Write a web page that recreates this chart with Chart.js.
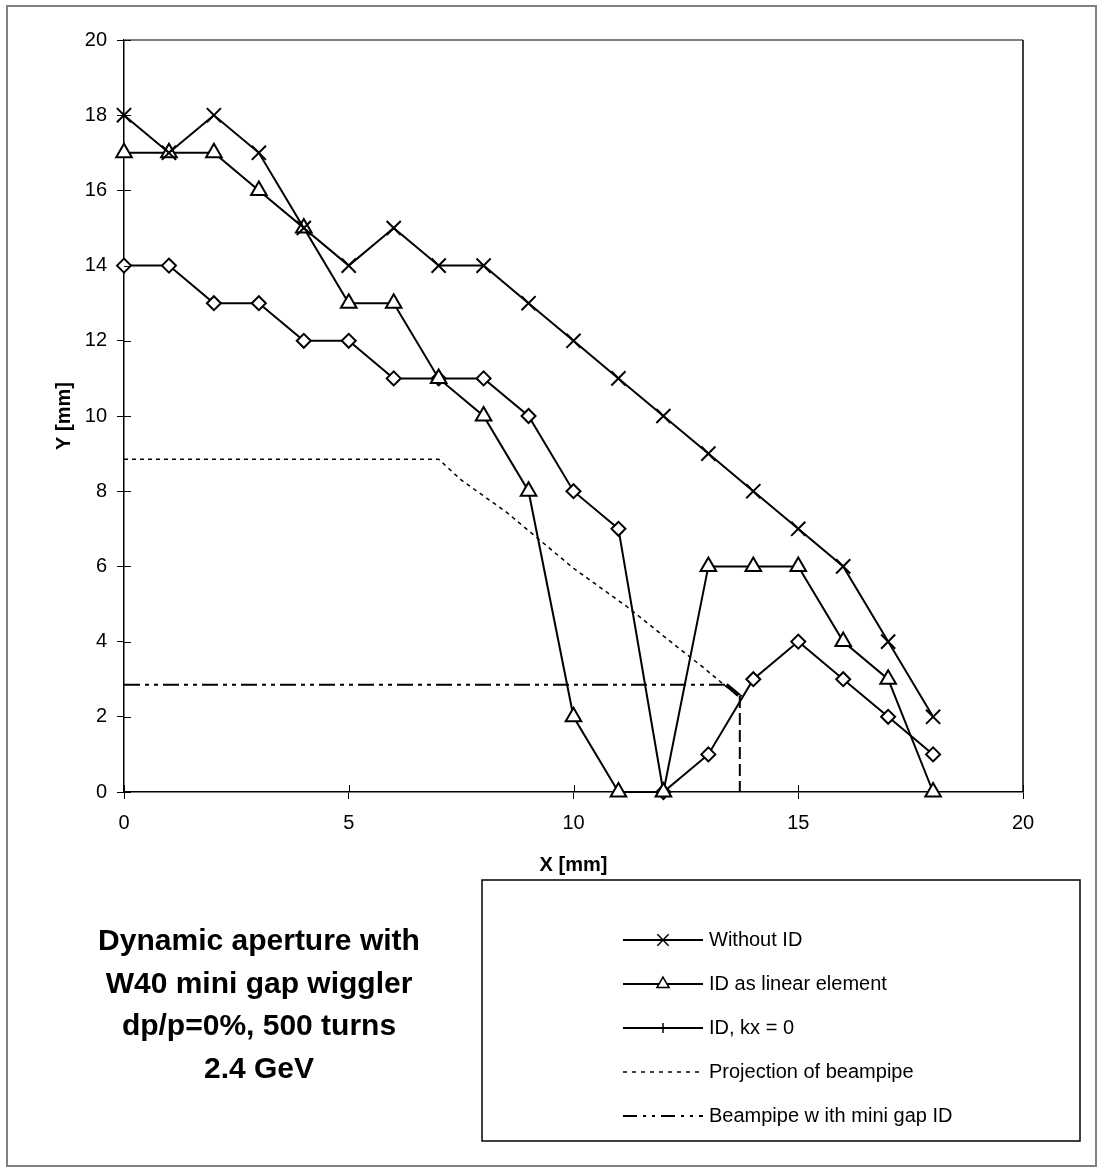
<!DOCTYPE html>
<html>
<head>
<meta charset="utf-8">
<script src="https://cdn.jsdelivr.net/npm/chart.js@4.4.1/dist/chart.umd.min.js"></script>
<style>
    html, body { margin: 0; padding: 0; background: #ffffff; }
    #wrap { width: 1098px; height: 1171px; }
</style>
</head>
<body>
<div id="wrap"><canvas id="apertureChart"></canvas></div>
<script>
// Data (mm)
const xMm = [0, 1, 2, 3, 4, 5, 6, 7, 8, 9, 10, 11, 12, 13, 14, 15, 16, 17, 18];
const withoutId = [18, 17, 18, 17, 15, 14, 15, 14, 14, 13, 12, 11, 10, 9, 8, 7, 6, 4, 2];
const idLinear = [17, 17, 17, 16, 15, 13, 13, 11, 10, 8, 2, 0, 0, 6, 6, 6, 4, 3, 0];
const idKx0 = [14, 14, 13, 13, 12, 12, 11, 11, 11, 10, 8, 7, 0, 1, 3, 4, 3, 2, 1];

// Projection of beampipe
const projX = [0, 7, 7.5, 8.5, 10, 11.2, 12, 12.9, 13.4, 13.75];
const projY = [8.85, 8.85, 8.3, 7.45, 5.95, 4.92, 4.15, 3.3, 2.8, 2.55];

// Beampipe with mini gap ID
const pipeX = [0, 13.4, 13.7, 13.7];
const pipeY = [2.85, 2.85, 2.55, 0];

const seriesNames = ['Without ID', 'ID as linear element', 'ID, kx = 0', 'Projection of beampipe', 'Beampipe w ith mini gap ID'];
const titleLines = ['Dynamic aperture with', 'W40 mini gap wiggler', 'dp/p=0%, 500 turns', '2.4 GeV'];

const FONT = "'Liberation Sans', Arial, sans-serif";

function toPoints(xs, ys) {
    return xs.map((x, i) => ({ x: x, y: ys[i] }));
}

/**
 * Ramar, inre tickmarkeringar, förklaring och titeltext
 */
const decorations = {
    id: 'decorations',
    beforeDraw(chart) {
        const ctx = chart.ctx;
        ctx.save();
        ctx.fillStyle = '#ffffff';
        ctx.fillRect(0, 0, chart.width, chart.height);
        ctx.strokeStyle = '#808080';
        ctx.lineWidth = 2;
        ctx.strokeRect(7, 6, 1089, 1160);
        ctx.restore();
    },
    afterDraw(chart) {
        const ctx = chart.ctx;
        const a = chart.chartArea;
        const xs = chart.scales.x;
        const ys = chart.scales.y;
        ctx.save();

        // plot area border, top grey and right black
        ctx.lineWidth = 2;
        ctx.strokeStyle = '#808080';
        ctx.beginPath();
        ctx.moveTo(a.left, a.top);
        ctx.lineTo(a.right, a.top);
        ctx.stroke();
        ctx.strokeStyle = '#000000';
        ctx.lineWidth = 1.5;
        ctx.beginPath();
        ctx.moveTo(a.right, a.top);
        ctx.lineTo(a.right, a.bottom);
        ctx.stroke();

        // inner half of the crossing ticks
        ctx.lineWidth = 1;
        ctx.beginPath();
        ys.ticks.forEach(t => {
            const py = Math.round(ys.getPixelForValue(t.value)) + 0.5;
            ctx.moveTo(a.left, py);
            ctx.lineTo(a.left + 7, py);
        });
        xs.ticks.forEach(t => {
            const px = Math.round(xs.getPixelForValue(t.value)) + 0.5;
            ctx.moveTo(px, a.bottom);
            ctx.lineTo(px, a.bottom - 7);
        });
        ctx.stroke();

        // title block
        ctx.fillStyle = '#000000';
        ctx.font = 'bold 30px ' + FONT;
        ctx.textAlign = 'center';
        ctx.textBaseline = 'middle';
        titleLines.forEach((line, i) => {
            ctx.fillText(line, 259, 942 + i * 42.5);
        });

        // legend box
        ctx.lineWidth = 1.5;
        ctx.strokeStyle = '#000000';
        ctx.strokeRect(482, 880, 598, 261);

        ctx.font = '20px ' + FONT;
        ctx.textAlign = 'left';
        chart.data.datasets.forEach((ds, i) => {
            const y = 940 + i * 44;
            ctx.save();
            ctx.strokeStyle = '#000000';
            ctx.lineWidth = ds.legendWidth;
            ctx.setLineDash(ds.legendDash);
            ctx.beginPath();
            ctx.moveTo(623, y);
            ctx.lineTo(703, y);
            ctx.stroke();
            ctx.restore();
            if (ds.legendMarker) {
                ctx.save();
                ctx.fillStyle = '#ffffff';
                ctx.strokeStyle = '#000000';
                Chart.helpers.drawPoint(ctx, ds.legendMarker, 663, y);
                ctx.restore();
            }
            ctx.fillStyle = '#000000';
            ctx.fillText(ds.label, 709, y);
        });
        ctx.restore();
    }
};

const dataLine = {
    showLine: true,
    borderColor: '#000000',
    borderWidth: 2,
    pointBackgroundColor: '#ffffff',
    pointBorderColor: '#000000',
    pointBorderWidth: 2,
    clip: false,
    legendWidth: 2,
    legendDash: []
};

new Chart(document.getElementById('apertureChart'), {
    type: 'scatter',
    data: {
        datasets: [
            Object.assign({}, dataLine, {
                label: seriesNames[0],
                data: toPoints(xMm, withoutId),
                pointStyle: 'crossRot',
                pointRadius: 10,
                legendMarker: { pointStyle: 'crossRot', radius: 8, borderWidth: 1.5 }
            }),
            Object.assign({}, dataLine, {
                label: seriesNames[1],
                data: toPoints(xMm, idLinear),
                pointStyle: 'triangle',
                pointRadius: 9,
                legendMarker: { pointStyle: 'triangle', radius: 7, borderWidth: 1.5 }
            }),
            Object.assign({}, dataLine, {
                label: seriesNames[2],
                data: toPoints(xMm, idKx0),
                pointStyle: 'rectRot',
                pointRadius: 7,
                legendMarker: { pointStyle: 'line', rotation: 90, radius: 5, borderWidth: 2 }
            }),
            {
                label: seriesNames[3],
                data: toPoints(projX, projY),
                showLine: true,
                borderColor: '#000000',
                borderWidth: 1.5,
                borderDash: [4, 4],
                pointRadius: 0,
                clip: false,
                legendWidth: 1.5,
                legendDash: [4, 5]
            },
            {
                label: seriesNames[4],
                data: toPoints(pipeX, pipeY),
                showLine: true,
                borderColor: '#000000',
                borderWidth: 2,
                borderDash: [16, 5, 4, 5, 4, 5],
                pointRadius: 0,
                clip: false,
                segment: {
                    borderWidth: c => c.p0DataIndex === 1 ? 4 : 2,
                    borderDash: c => c.p0DataIndex === 2 ? [12, 5] : [16, 5, 4, 5, 4, 5]
                },
                legendWidth: 2,
                legendDash: [14, 6, 3, 6, 3, 6]
            }
        ]
    },
    options: {
        responsive: true,
        maintainAspectRatio: false,
        animation: false,
        layout: {
            padding: { left: 0, top: 40, right: 75, bottom: 289 }
        },
        plugins: {
            legend: { display: false },
            tooltip: { enabled: false }
        },
        scales: {
            x: {
                type: 'linear',
                min: 0,
                max: 20,
                afterFit: s => { s.height = 90; },
                ticks: {
                    stepSize: 5,
                    color: '#000000',
                    padding: 12,
                    maxRotation: 0,
                    font: { family: FONT, size: 20 }
                },
                grid: {
                    drawOnChartArea: false,
                    tickLength: 7,
                    color: '#000000'
                },
                border: { color: '#000000', width: 1.5 },
                title: {
                    display: true,
                    text: 'X [mm]',
                    color: '#000000',
                    padding: { top: 0, bottom: 5 },
                    font: { family: FONT, size: 20, weight: 'bold' }
                }
            },
            y: {
                type: 'linear',
                min: 0,
                max: 20,
                afterFit: s => { s.width = 124; },
                ticks: {
                    stepSize: 2,
                    color: '#000000',
                    padding: 10,
                    font: { family: FONT, size: 20 }
                },
                grid: {
                    drawOnChartArea: false,
                    tickLength: 7,
                    color: '#000000'
                },
                border: { color: '#000000', width: 1.5 },
                title: {
                    display: true,
                    text: 'Y [mm]',
                    color: '#000000',
                    padding: { top: 52, bottom: 0 },
                    font: { family: FONT, size: 20, weight: 'bold' }
                }
            }
        }
    },
    plugins: [decorations]
});
</script>
</body>
</html>
